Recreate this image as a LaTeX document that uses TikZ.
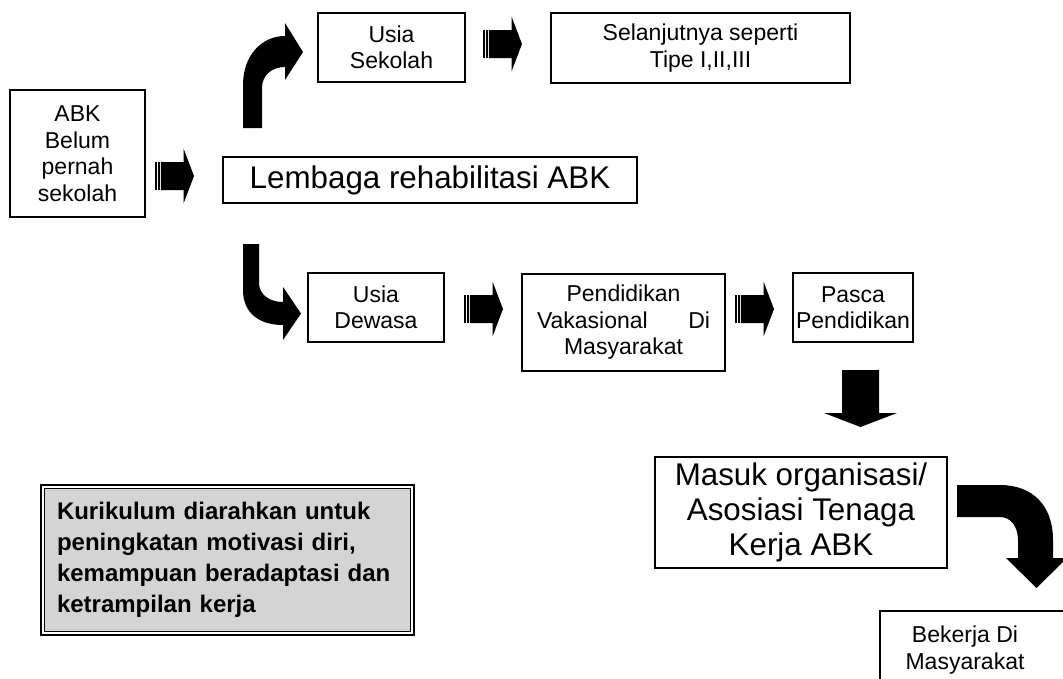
\documentclass[tikz,border=0pt]{standalone}
\usepackage{fontspec}
\setmainfont{Liberation Sans}
\definecolor{boxgray}{RGB}{212,212,212}
\newcommand\fsmall{\fontsize{17.25}{19.9}\selectfont}
\newcommand\flarge{\fontsize{23.5}{26.5}\selectfont}
\newcommand\fboldtxt{\bfseries\fontsize{18}{23.25}\selectfont}
\begin{document}
\begin{tikzpicture}[x=0.75pt,y=-0.75pt,
  box/.style={draw, line width=1.1pt, align=center, inner sep=0pt, font=\fsmall},
  bigbox/.style={box, font=\flarge},
  blockarrow/.style={fill=black},
  striparrow/.pic={
    \fill (0,-14) rectangle (1.7,14);
    \fill (3,-14) rectangle (4.5,14);
    \fill (5.8,-14) -- (28.7,-14) -- (28.7,-27) -- (39,0) -- (28.7,27) -- (28.7,14) -- (5.8,14) -- cycle;
  }]
\clip (0,0) rectangle (1063,678);

% boxes
\node[box, minimum width=101.25pt, minimum height=95.25pt] (abk) at (77.5,153.5) {ABK\\Belum\\pernah\\sekolah};
\node[bigbox, minimum width=310.5pt, minimum height=34.5pt] (lem) at (430,180) {Lembaga rehabilitasi ABK};
\node[box, minimum width=110.25pt, minimum height=51.75pt] (usek) at (391.5,47.5) {Usia\\Sekolah};
\node[box, minimum width=224.25pt, minimum height=52.5pt] (sel) at (700.5,48) {Selanjutnya seperti\\Tipe I,II,III};
\node[box, minimum width=102pt, minimum height=51.75pt] (udew) at (376,307.5) {Usia\\Dewasa};
\node[box, minimum width=152.25pt, minimum height=72.75pt] (pend) at (623.5,322.5) {Pendidikan\\\makebox[129.75pt]{Vakasional\hfill Di}\\Masyarakat};
\node[box, minimum width=90pt, minimum height=51.75pt] (pasca) at (853,307.5) {Pasca\\Pendidikan};
\node[bigbox, minimum width=219pt, minimum height=83.25pt] (masuk) at (801,512.5) {Masuk organisasi/\\Asosiasi Tenaga\\Kerja ABK};
\node[draw=black, line width=1.2pt, double=white, double distance=1.5pt, fill=boxgray,
      minimum width=277.35pt, minimum height=110.1pt, text width=255.75pt, align=left,
      inner sep=0pt, font=\fboldtxt] (kur) at (227.5,560)
  {Kurikulum diarahkan untuk\\peningkatan motivasi diri,\\kemampuan beradaptasi dan\\ketrampilan kerja};
\draw[line width=1.1pt] (880,700) |- (1090,611);
\node[align=center, inner sep=0pt, font=\fsmall] (bek) at (965,650) {Bekerja Di\\Masyarakat};

% striped arrows
\pic at (155,176) {striparrow};
\pic at (483,44) {striparrow};
\pic at (464,309) {striparrow};
\pic at (735,309) {striparrow};

% bent arrows
\fill[blockarrow] (243,128) -- (243,85) .. controls (243,55) and (262,36) .. (285,36) -- (285,23) -- (303,52) -- (285,80) -- (285,67) .. controls (272,67) and (262,75) .. (262,88) -- (262,128) -- cycle;
\fill[blockarrow] (243,244) -- (259,244) -- (259,283) .. controls (259,295) and (270,302) .. (283,302) -- (283,287) -- (301,313.5) -- (283,340) -- (283,325) .. controls (258,325) and (243,312) .. (243,290) -- cycle;
\fill[blockarrow] (957,485) -- (1000,485) .. controls (1032,485) and (1053,505) .. (1053,540) -- (1053,558) -- (1067,558) -- (1036.5,588) -- (1006,558) -- (1018,558) -- (1018,540) .. controls (1018,527) and (1011,517) .. (1000,517) -- (957,517) -- cycle;
\fill[blockarrow] (842,370) -- (879,370) -- (879,413) -- (897,413) -- (860.5,427) -- (824,413) -- (842,413) -- cycle;
\end{tikzpicture}
\end{document}
